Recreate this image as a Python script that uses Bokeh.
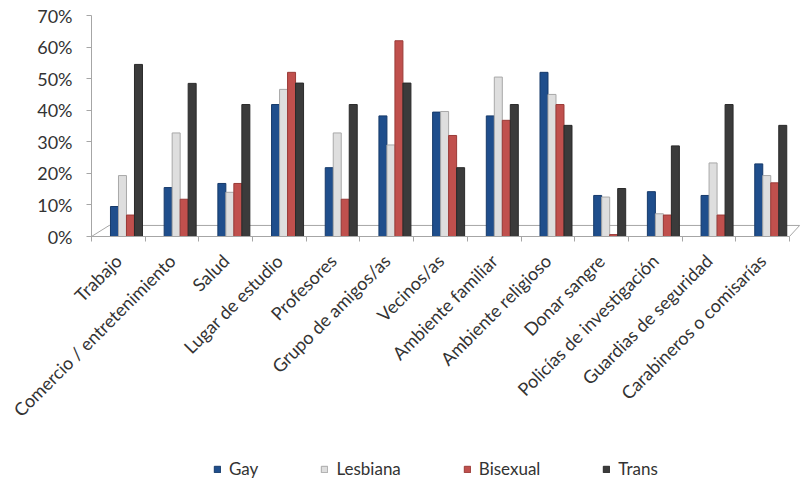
import math
from bokeh.plotting import figure
from bokeh.models import (Range1d, FixedTicker, PrintfTickFormatter, Legend,
                          LegendItem, ColumnDataSource)
from bokeh.transform import dodge
from bokeh.embed import file_html
from bokeh.resources import INLINE

categories = ["Trabajo", "Comercio / entretenimiento", "Salud", "Lugar de estudio",
              "Profesores", "Grupo de amigos/as", "Vecinos/as", "Ambiente familiar",
              "Ambiente religioso", "Donar sangre", "Policías de investigación",
              "Guardias de seguridad", "Carabineros o comisarías"]
series = ["Gay", "Lesbiana", "Bisexual", "Trans"]
gay      = [9.5, 15.5, 16.8, 41.8, 21.8, 38.2, 39.4, 38.2, 52.0, 13.0, 14.2, 13.0, 23.0]
lesbiana = [19.3, 32.8, 14.0, 46.6, 32.8, 29.0, 39.6, 50.5, 45.0, 12.5, 7.2, 23.3, 19.3]
bisexual = [6.8, 11.8, 16.8, 52.0, 11.8, 62.0, 32.0, 36.8, 41.8, 0.6, 6.8, 6.8, 17.0]
trans    = [54.5, 48.5, 41.8, 48.6, 41.8, 48.6, 21.8, 41.8, 35.2, 15.2, 28.7, 41.8, 35.2]
y_ticks = [0, 10, 20, 30, 40, 50, 60, 70]

FONT = "Lato"
TEXT = "#333333"
AXIS = "#a6a6a6"
fills = ["#1f4e8c", "#dedede", "#c0504d", "#3b3b3b"]
lines = ["#163a6a", "#a8a8a8", "#9a3b38", "#2a2a2a"]
offsets = [-0.072, 0.077, 0.226, 0.375]
BAR_W = 0.149

# layout (pixels)
W, H = 800, 479
TOP, PLOT_H, LEFT, CAT_W = 15, 221, 91, 53.69
Y_MAX = 70
n = len(categories)
px_per_unit = PLOT_H / Y_MAX
y_lo = -(H - TOP - PLOT_H) / px_per_unit      # frame reaches canvas bottom
y_hi = Y_MAX + TOP / px_per_unit              # frame reaches canvas top
x_lo = -LEFT / CAT_W                          # frame reaches canvas left
x_hi = (W - LEFT) / CAT_W

centers = [i + 0.5 for i in range(n)]
source = ColumnDataSource(dict(x=centers, Gay=gay, Lesbiana=lesbiana,
                               Bisexual=bisexual, Trans=trans))

p = figure(width=W, height=H, output_backend="svg", toolbar_location=None,
           x_range=Range1d(x_lo, x_hi), y_range=Range1d(y_lo, y_hi),
           min_border_left=0, min_border_right=0, min_border_top=0,
           min_border_bottom=0)
p.frame_height = H
p.frame_width = W
p.outline_line_color = None
p.xgrid.visible = False
p.ygrid.visible = False
p.background_fill_color = "white"
p.border_fill_color = "white"

# 3D floor outline
DX_L, DX_R, DY = 0.33, 0.19, 3.5
p.line(x=[0, DX_L, n + DX_R, n], y=[0, DY, DY, 0], line_color=AXIS, line_width=1)

renderers = []
for name, off, fc, lc in zip(series, offsets, fills, lines):
    r = p.vbar(x=dodge("x", off, range=p.x_range), top=name, width=BAR_W,
               source=source, fill_color=fc, line_color=lc, line_width=1)
    renderers.append(r)

# x axis (fixed at 0 so it takes no panel space)
xa = p.xaxis[0]
xa.fixed_location = 0
xa.ticker = FixedTicker(ticks=centers, minor_ticks=list(range(n + 1)))
xa.major_label_overrides = {c: lab for c, lab in zip(centers, categories)}
xa.major_label_orientation = math.pi / 4
xa.bounds = (0, n)
xa.major_tick_line_color = None
xa.major_tick_out = 0
xa.major_tick_in = 0
xa.minor_tick_out = 5
xa.minor_tick_in = 0
xa.minor_tick_line_color = AXIS
xa.axis_line_color = AXIS
xa.major_label_text_font = FONT
xa.major_label_text_font_size = "18px"
xa.major_label_text_color = TEXT
xa.major_label_standoff = 16

# y axis (fixed at x=0)
ya = p.yaxis[0]
ya.fixed_location = 0
ya.ticker = FixedTicker(ticks=y_ticks)
ya.bounds = (0, Y_MAX)
ya.formatter = PrintfTickFormatter(format="%d%%")
ya.axis_line_color = AXIS
ya.major_tick_line_color = AXIS
ya.major_tick_out = 5
ya.major_tick_in = 0
ya.minor_tick_line_color = None
ya.major_label_text_font = FONT
ya.major_label_text_font_size = "18px"
ya.major_label_text_color = TEXT
ya.major_label_standoff = 14

legend = Legend(items=[LegendItem(label=s, renderers=[r]) for s, r in zip(series, renderers)],
                orientation="horizontal", location=(213, 0),
                glyph_width=8, glyph_height=8, label_standoff=8, spacing=62,
                padding=0, margin=0, border_line_color=None,
                background_fill_alpha=0,
                label_text_font=FONT, label_text_font_size="17px",
                label_text_color=TEXT)
p.add_layout(legend, "center")

open("out.html", "w").write(file_html(p, INLINE))
